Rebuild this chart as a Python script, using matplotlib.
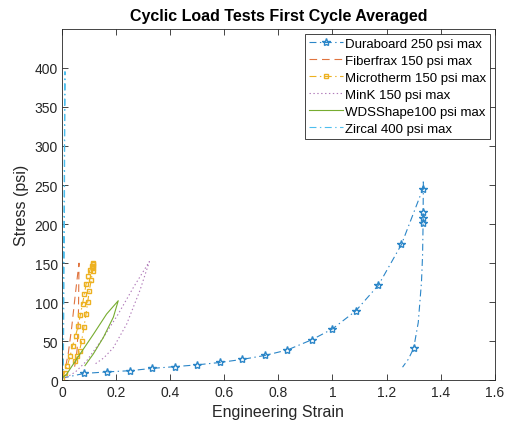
import numpy as np
import matplotlib
matplotlib.use("Agg")
import matplotlib.pyplot as plt
from matplotlib.ticker import FormatStrFormatter

plt.rcParams['font.family'] = ['Liberation Sans', 'DejaVu Sans']

# Duraboard 250 psi max (loading then unloading)
dura_x = [0.0, 0.082, 0.167, 0.251, 0.334, 0.418, 0.5, 0.583, 0.667, 0.75, 0.833, 0.923, 1.0,
          1.086, 1.17, 1.255, 1.334, 1.336,
          1.335, 1.335, 1.335, 1.333, 1.329, 1.317, 1.30, 1.28, 1.259]
dura_y = [3, 9, 11, 12.5, 15.5, 17.7, 20, 23, 27, 32, 39, 52, 66,
          89, 122, 174, 245, 256,
          215, 208, 202, 160, 126, 74, 41, 27, 17]
dura_marks = [1, 2, 3, 4, 5, 6, 7, 8, 9, 10, 11, 12, 13, 14, 15, 16, 18, 19, 20, 24]

# Fiberfrax 150 psi max
fib_x = [0.0, 0.012, 0.023, 0.036, 0.048, 0.056, 0.063,
         0.062, 0.061, 0.059, 0.056, 0.051, 0.045]
fib_y = [3, 15, 34, 68, 106, 130, 150,
         120, 90, 62, 40, 25, 15]

# Microtherm 150 psi max
micro_x = [0.0, 0.01, 0.02, 0.03, 0.039, 0.05, 0.06, 0.068, 0.076, 0.083, 0.089, 0.096, 0.103,
           0.110, 0.113, 0.116, 0.116, 0.115, 0.113, 0.108, 0.101, 0.095, 0.089, 0.081,
           0.073, 0.065, 0.057, 0.048]
micro_y = [3, 10, 19, 31, 44, 57, 70, 84, 98, 111, 123, 133, 141,
           147, 149, 150, 147, 144, 140, 128, 115, 100, 85, 68,
           51, 38, 31, 25]

# MinK 150 psi max
mink_x = [0.0, 0.017, 0.05, 0.091, 0.153, 0.208, 0.264, 0.323,
          0.288, 0.239, 0.19, 0.155, 0.122]
mink_y = [3, 4, 11, 25, 55, 85, 119, 152,
          115, 72, 42, 29, 21]

# WDSShape 100 psi max
wds_x = [0.0, 0.017, 0.067, 0.116, 0.165, 0.208,
         0.19, 0.153, 0.116, 0.085]
wds_y = [3, 8, 34, 59, 85, 102,
         81, 55, 34, 19]

# Zircal 400 psi max
zir_x = [0.0, 0.004, 0.007, 0.009, 0.011, 0.010, 0.009, 0.007, 0.005]
zir_y = [0, 100, 200, 300, 395, 300, 200, 100, 10]

plt.rcParams['lines.scale_dashes'] = False

fig = plt.figure(figsize=(5.08, 4.27), dpi=100)
ax = fig.add_axes([0.122, 0.1066, 0.852, 0.824])

lw = 0.8
dashdot = (0, (5, 2.5, 1, 2.5))
ax.plot(dura_x, dura_y, color='#2b86c8', ls=dashdot, lw=lw, marker='*', ms=6, mfc='none',
        markevery=dura_marks, label='Duraboard 250 psi max')
ax.plot(fib_x, fib_y, color='#e0743f', ls=(0, (5.5, 3.5)), lw=lw, label='Fiberfrax 150 psi max')
ax.plot(micro_x, micro_y, color='#EDB120', ls=dashdot, lw=lw, marker='s', ms=3.5, mfc='none',
        label='Microtherm 150 psi max')
ax.plot(mink_x, mink_y, color='#b07ab9', ls=(0, (1, 1.8)), lw=lw, label='MinK 150 psi max')
ax.plot(wds_x, wds_y, '-', color='#77AC30', lw=lw, label='WDSShape100 psi max')
ax.plot(zir_x, zir_y, color='#4DBEEE', ls=dashdot, lw=lw, label='Zircal 400 psi max')

ax.set_xlim(0, 1.6)
ax.set_ylim(0, 450)
ax.set_xticks(np.arange(0, 1.61, 0.2))
ax.set_yticks(np.arange(0, 401, 50))
ax.xaxis.set_major_formatter(FormatStrFormatter('%g'))
ax.tick_params(direction='in', top=True, right=True, length=4, width=0.6,
               labelsize=10, colors='#262626', pad=3)
for s in ax.spines.values():
    s.set_color('#262626')
    s.set_linewidth(0.6)

ax.set_xlabel('Engineering Strain', fontsize=11.5, color='#262626', labelpad=4)
ax.set_ylabel('Stress (psi)', fontsize=11.5, color='#262626', labelpad=4)
ax.set_title('Cyclic Load Tests First Cycle Averaged', fontsize=11.5, fontweight='bold', pad=6)

leg = ax.legend(loc='upper right', bbox_to_anchor=(0.989, 0.985), borderaxespad=0,
                fontsize=9.5, handlelength=2.6, handletextpad=0.15, labelspacing=0.36,
                borderpad=0.3, fancybox=False, framealpha=1)
leg.get_frame().set_edgecolor('#262626')
leg.get_frame().set_linewidth(0.6)

fig.savefig('out.png', dpi=100)
